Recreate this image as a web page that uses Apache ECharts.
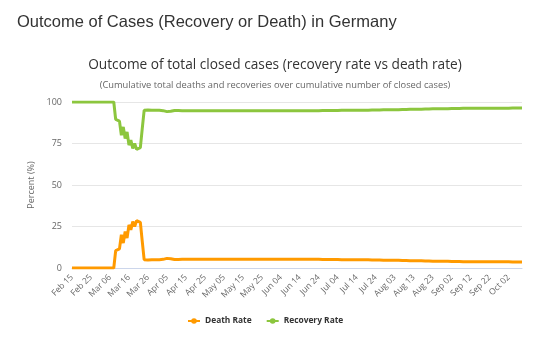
<!DOCTYPE html>
<html>
<head>
<meta charset="utf-8">
<script src="https://cdn.jsdelivr.net/npm/echarts@6/dist/echarts.min.js"></script>
<style>
html,body{margin:0;padding:0;background:#fff;}
#c{width:550px;height:347px;}
</style>
</head>
<body>
<div id="c"></div>
<script>
// Categories: daily dates from Feb 15 to Oct 10 (2020)
const startDate = [2020, 1, 15];
const dayCount = 238;
const monthNames = ["Jan","Feb","Mar","Apr","May","Jun","Jul","Aug","Sep","Oct","Nov","Dec"];
const categories = [];
for (let i = 0; i < dayCount; i++) {
  const d = new Date(Date.UTC(startDate[0], startDate[1], startDate[2] + i));
  categories.push(monthNames[d.getUTCMonth()] + " " + String(d.getUTCDate()).padStart(2, "0"));
}

const yTicks = [0, 25, 50, 75, 100];

const deathRate = [
  0,0,0,0,0,0,0,0,0,0,
  0,0,0,0,0,0,0,0,0,0,
  0,0,0,10.5,11,11.5,20,15,22,18,
  26,23,28,25,28.5,29,27.5,16,5,5.2,
  4.8,5.5,5.0,5.3,5.0,4.9,5.0,5.0,5.2,5.4,
  5.8,6.1,5.6,5.2,5.1,5.1,5.1,5.1,5.2,5.2,
  5.2,5.2,5.3,5.3,5.3,5.3,5.3,5.3,5.3,5.3,
  5.3,5.3,5.3,5.3,5.3,5.3,5.3,5.3,5.3,5.3,
  5.3,5.3,5.3,5.3,5.3,5.3,5.3,5.3,5.3,5.3,
  5.3,5.3,5.3,5.3,5.3,5.3,5.3,5.3,5.3,5.3,
  5.3,5.3,5.3,5.3,5.3,5.3,5.3,5.3,5.3,5.3,
  5.3,5.3,5.3,5.3,5.3,5.3,5.3,5.3,5.3,5.2,
  5.2,5.2,5.2,5.2,5.2,5.2,5.2,5.2,5.2,5.2,
  5.2,5.2,5.1,5.1,5.1,5.1,5.1,5.1,5.1,5.1,
  5.1,5.0,5.0,5.0,5.0,5.0,5.0,5.0,5.0,5.0,
  5.0,4.9,4.9,4.9,4.9,4.9,4.9,4.8,4.8,4.8,
  4.8,4.8,4.8,4.7,4.7,4.7,4.7,4.7,4.7,4.7,
  4.6,4.6,4.6,4.6,4.5,4.5,4.5,4.5,4.4,4.4,
  4.4,4.4,4.3,4.3,4.3,4.3,4.2,4.2,4.2,4.2,
  4.1,4.1,4.1,4.1,4.0,4.0,4.0,4.0,4.0,3.9,
  3.9,3.9,3.9,3.9,3.9,3.9,3.8,3.8,3.8,3.8,
  3.8,3.8,3.8,3.8,3.8,3.8,3.8,3.8,3.7,3.7,
  3.7,3.7,3.7,3.7,3.7,3.7,3.7,3.7,3.7,3.7,
  3.7,3.6,3.6,3.6,3.6,3.6,3.6,3.6
];

const recoveryRate = [
  100,100,100,100,100,100,100,100,100,100,
  100,100,100,100,100,100,100,100,100,100,
  100,100,100,89.5,89,88.5,80,85,78,82,
  74,77,72,75,71.5,71,72.5,84,95,94.8,
  95.2,94.5,95.0,94.7,95.0,95.1,95.0,95.0,94.8,94.6,
  94.2,93.9,94.4,94.8,94.9,94.9,94.9,94.9,94.8,94.8,
  94.8,94.8,94.7,94.7,94.7,94.7,94.7,94.7,94.7,94.7,
  94.7,94.7,94.7,94.7,94.7,94.7,94.7,94.7,94.7,94.7,
  94.7,94.7,94.7,94.7,94.7,94.7,94.7,94.7,94.7,94.7,
  94.7,94.7,94.7,94.7,94.7,94.7,94.7,94.7,94.7,94.7,
  94.7,94.7,94.7,94.7,94.7,94.7,94.7,94.7,94.7,94.7,
  94.7,94.7,94.7,94.7,94.7,94.7,94.7,94.7,94.7,94.8,
  94.8,94.8,94.8,94.8,94.8,94.8,94.8,94.8,94.8,94.8,
  94.8,94.8,94.9,94.9,94.9,94.9,94.9,94.9,94.9,94.9,
  94.9,95.0,95.0,95.0,95.0,95.0,95.0,95.0,95.0,95.0,
  95.0,95.1,95.1,95.1,95.1,95.1,95.1,95.2,95.2,95.2,
  95.2,95.2,95.2,95.3,95.3,95.3,95.3,95.3,95.3,95.3,
  95.4,95.4,95.4,95.4,95.5,95.5,95.5,95.5,95.6,95.6,
  95.6,95.6,95.7,95.7,95.7,95.7,95.8,95.8,95.8,95.8,
  95.9,95.9,95.9,95.9,96.0,96.0,96.0,96.0,96.0,96.1,
  96.1,96.1,96.1,96.1,96.1,96.1,96.2,96.2,96.2,96.2,
  96.2,96.2,96.2,96.2,96.2,96.2,96.2,96.2,96.3,96.3,
  96.3,96.3,96.3,96.3,96.3,96.3,96.3,96.3,96.3,96.3,
  96.3,96.4,96.4,96.4,96.4,96.4,96.4,96.4
];

const seriesNames = ["Death Rate", "Recovery Rate"];
const seriesColors = ["#FF9A00", "#8CC63E"];

const chart = echarts.init(document.getElementById("c"), null, {renderer: "canvas"});
chart.setOption({
  animation: false,
  backgroundColor: "#ffffff",
  title: [
    {
      text: "Outcome of Cases (Recovery or Death) in Germany",
      left: 12, top: 9,
      textStyle: {fontFamily: "Liberation Sans, Arial, sans-serif", fontSize: 16.5, fontWeight: "normal", color: "#333333"}
    },
    {
      text: "Outcome of total closed cases (recovery rate vs death rate)",
      left: "center", top: 53,
      textStyle: {fontFamily: "Open Sans, sans-serif", fontSize: 13.7, fontWeight: "normal", color: "#333333"}
    },
    {
      text: "(Cumulative total deaths and recoveries over cumulative number of closed cases)",
      left: "center", top: 76,
      textStyle: {fontFamily: "Open Sans, sans-serif", fontSize: 9.3, fontWeight: "normal", color: "#666666"}
    }
  ],
  legend: {
    data: seriesNames,
    left: 182, top: 312,
    itemWidth: 12, itemHeight: 7, itemGap: 14,
    textStyle: {fontFamily: "Open Sans, sans-serif", fontSize: 8.4, fontWeight: "bold", color: "#333333"}
  },
  grid: {left: 72, right: 28, top: 102, bottom: 79, containLabel: false},
  xAxis: {
    type: "category",
    data: categories,
    boundaryGap: false,
    axisLine: {lineStyle: {color: "#ccd6eb"}},
    axisTick: {show: false},
    axisLabel: {
      interval: 9, rotate: 45, margin: 8,
      fontFamily: "Open Sans, sans-serif", fontSize: 8.5, color: "#666666"
    },
    splitLine: {show: false}
  },
  yAxis: {
    type: "value",
    min: yTicks[0], max: yTicks[yTicks.length - 1], interval: 25,
    name: "Percent (%)",
    nameLocation: "middle",
    nameGap: 29,
    nameTextStyle: {fontFamily: "Open Sans, sans-serif", fontSize: 9, color: "#666666"},
    axisLine: {show: false},
    axisTick: {show: false},
    axisLabel: {margin: 10, fontFamily: "Open Sans, sans-serif", fontSize: 9, color: "#666666"},
    splitLine: {lineStyle: {color: "#e6e6e6"}}
  },
  series: [
    {
      name: seriesNames[0], type: "line", data: deathRate,
      showSymbol: false, symbol: "circle", symbolSize: 6,
      lineStyle: {width: 3, color: seriesColors[0]},
      itemStyle: {color: seriesColors[0]}
    },
    {
      name: seriesNames[1], type: "line", data: recoveryRate,
      showSymbol: false, symbol: "circle", symbolSize: 6,
      lineStyle: {width: 3, color: seriesColors[1]},
      itemStyle: {color: seriesColors[1]}
    }
  ]
});
</script>
</body>
</html>
